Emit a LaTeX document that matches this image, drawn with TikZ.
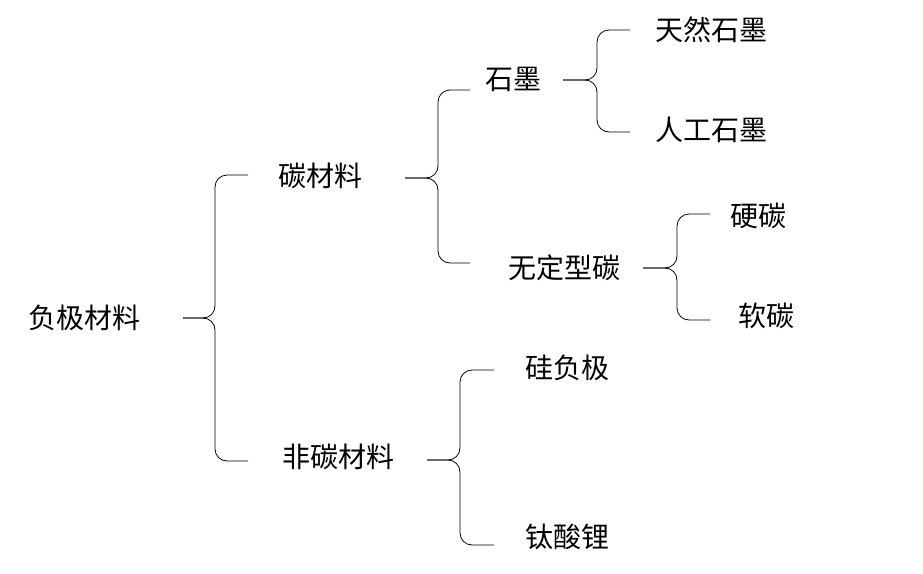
\documentclass[tikz,border=0pt]{standalone}
\usepackage{fontspec}
\setmainfont{Noto Sans CJK SC}
\begin{document}
\begin{tikzpicture}[x=1pt,y=-1pt,
  lbl/.style={inner sep=0pt,font=\fontsize{28}{30}\selectfont},
  br/.style={draw,line width=0.8pt,rounded corners=12pt}]
\useasboundingbox (0,0) rectangle (923,573);
\node[lbl] (root) at (84,318) {负极材料};
\node[lbl] (tc) at (320,176) {碳材料};
\node[lbl] (ftc) at (338,457) {非碳材料};
\node[lbl] (sm) at (513,79) {石墨};
\node[lbl] (wd) at (564,268) {无定型碳};
\node[lbl] (tr) at (711,30) {天然石墨};
\node[lbl] (rg) at (711,130) {人工石墨};
\node[lbl] (yt) at (758,216) {硬碳};
\node[lbl] (rt) at (766,316) {软碳};
\node[lbl] (gf) at (567,368) {硅负极};
\node[lbl] (ts) at (567,537) {钛酸锂};
% braces: tip x, vertical x, right end x
\coordinate (b1) at (183,318);
\draw[br] (248,175) -| (215,318) -- (b1);
\draw[br] (248,461) -| (215,318) -- (b1);
\coordinate (b2) at (405,178);
\draw[br] (470,90) -| (438,178) -- (b2);
\draw[br] (470,263) -| (438,178) -- (b2);
\coordinate (b3) at (563,80);
\draw[br] (630,30) -| (597,80) -- (b3);
\draw[br] (630,132) -| (597,80) -- (b3);
\coordinate (b4) at (643,268);
\draw[br] (710,214) -| (677,268) -- (b4);
\draw[br] (710,320) -| (677,268) -- (b4);
\coordinate (b5) at (427,460);
\draw[br] (494,370) -| (460,460) -- (b5);
\draw[br] (494,545) -| (460,460) -- (b5);
\end{tikzpicture}
\end{document}
